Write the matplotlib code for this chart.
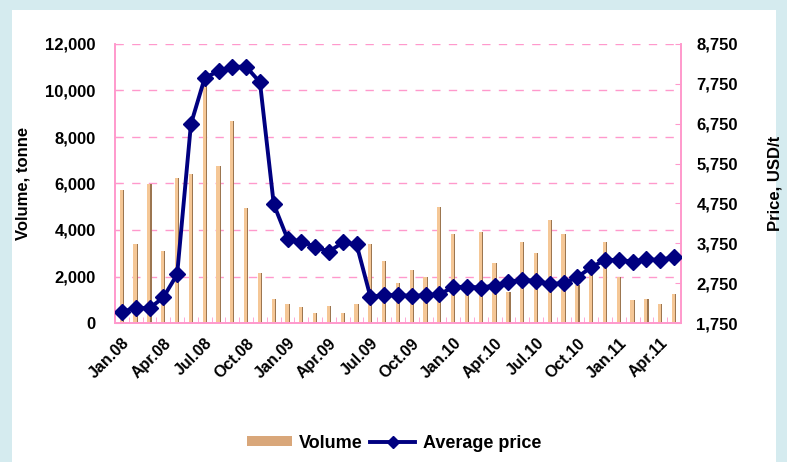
import numpy as np
import matplotlib.pyplot as plt
from matplotlib.patches import Rectangle
from matplotlib.lines import Line2D

# monthly data, Jan.08 - May.11
months = ['Jan.08', 'Feb.08', 'Mar.08', 'Apr.08', 'May.08', 'Jun.08', 'Jul.08', 'Aug.08', 'Sep.08', 'Oct.08', 'Nov.08', 'Dec.08',
          'Jan.09', 'Feb.09', 'Mar.09', 'Apr.09', 'May.09', 'Jun.09', 'Jul.09', 'Aug.09', 'Sep.09', 'Oct.09', 'Nov.09', 'Dec.09',
          'Jan.10', 'Feb.10', 'Mar.10', 'Apr.10', 'May.10', 'Jun.10', 'Jul.10', 'Aug.10', 'Sep.10', 'Oct.10', 'Nov.10', 'Dec.10',
          'Jan.11', 'Feb.11', 'Mar.11', 'Apr.11', 'May.11']
volume = [5720, 3380, 5960, 3100, 6250, 6400, 10380, 6750, 8690, 4930, 2140, 1030,
          800, 670, 440, 740, 440, 820, 3380, 2670, 1710, 2280, 1990, 5000,
          3830, 1250, 3900, 2570, 1320, 3470, 3010, 4420, 3830, 1620, 2300, 3470,
          1990, 970, 1050, 820, 1260]
price = [2030, 2130, 2120, 2390, 2970, 6740, 7900, 8070, 8180, 8180, 7790, 4730,
         3860, 3790, 3660, 3540, 3770, 3720, 2410, 2450, 2450, 2430, 2450, 2470,
         2650, 2660, 2640, 2690, 2790, 2830, 2810, 2730, 2750, 2900, 3150, 3330,
         3330, 3290, 3350, 3330, 3410]

pink = '#ff99cc'
navy = '#000080'
bar_light = '#f5c796'
bar_dark = '#9c7650'

plt.rcParams['font.family'] = ['Liberation Sans', 'DejaVu Sans']
plt.rcParams['font.weight'] = 'bold'

fig = plt.figure(figsize=(7.87, 4.62), dpi=100)
fig.patch.set_facecolor('#d5ebef')
fig.patches.append(Rectangle((12 / 787, 0), 764 / 787, 1 - 10 / 462, transform=fig.transFigure,
                             facecolor='white', edgecolor='none', zorder=-10))

ax = fig.add_axes([115 / 787, 139 / 462, 566 / 787, 279 / 462])
ax.set_facecolor('none')
x = np.arange(len(months))

# bars: light body with darker right edge
ax.bar(x - 0.02, volume, width=0.28, color=bar_light, zorder=2)
ax.bar(x + 0.11, volume, width=0.08, color=bar_dark, zorder=2)

ax.set_xlim(-0.5, len(months) - 0.5)
ax.set_ylim(0, 12000)
ax.set_yticks(np.arange(0, 12001, 2000))
ax.set_yticklabels([f'{v:,}' for v in range(0, 12001, 2000)], fontsize=12, fontweight='bold')
ax.yaxis.grid(True, color=pink, linestyle=(0, (6, 6)), linewidth=1)
ax.set_axisbelow(True)
ax.set_ylabel('Volume, tonne', fontsize=12, fontweight='bold')
ax.yaxis.set_label_coords(-84 / 566, 0.5)

ax.set_xticks(x[::3])
ax.set_xticklabels(months[::3], rotation=45, ha='right', rotation_mode='anchor',
                   fontsize=11.5, fontweight='bold')
ax.set_xticks(np.arange(-0.5, len(months)), minor=True)
ax.tick_params(axis='x', which='major', length=0, pad=9)
ax.tick_params(axis='x', which='minor', direction='in', length=4, color=pink)
ax.tick_params(axis='y', direction='in', length=4, color=pink, pad=14)

for s in ['left', 'bottom', 'right']:
    ax.spines[s].set_color(pink)
    ax.spines[s].set_linewidth(1.2)
ax.spines['top'].set_visible(False)

ax2 = ax.twinx()
ax2.plot(x, price, color=navy, linewidth=2.8, marker='D', markersize=8, zorder=3)
ax2.set_ylim(1750, 8750)
ax2.set_yticks(np.arange(1750, 8751, 1000))
ax2.set_yticklabels([f'{v:,}' for v in range(1750, 8751, 1000)], fontsize=12, fontweight='bold')
ax2.tick_params(axis='y', direction='in', length=4, color=pink, pad=11)
ax2.set_ylabel('Price, USD/t', fontsize=12, fontweight='bold')
ax2.yaxis.set_label_coords(1 + 87 / 566, 0.5)
for s in ['left', 'bottom', 'right']:
    ax2.spines[s].set_color(pink)
    ax2.spines[s].set_linewidth(1.2)
ax2.spines['top'].set_visible(False)

# legend
vol_handle = Rectangle((0, 0), 1, 1, facecolor='#d9a77a', edgecolor='none')
price_handle = Line2D([], [], color=navy, linewidth=2.8, marker='D', markersize=6)
fig.legend([vol_handle, price_handle], ['Volume', 'Average price'], loc='center',
           bbox_to_anchor=(394 / 787, 1 - 443 / 462), ncol=2, frameon=False,
           prop={'weight': 'bold', 'size': 13}, handlelength=2.5, handleheight=0.5,
           columnspacing=0.4, handletextpad=0.4)

fig.savefig('out.png', dpi=100, facecolor=fig.get_facecolor())
